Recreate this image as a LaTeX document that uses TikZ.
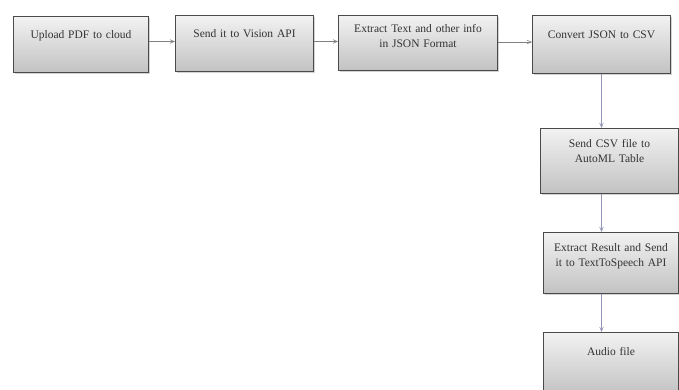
\documentclass[tikz,border=0pt]{standalone}
\usepackage{fontspec}
\setmainfont{Liberation Serif}
\usepackage{tikz}
\usetikzlibrary{arrows, shadows}

\definecolor{boxline}{HTML}{4A4A4A}
\definecolor{boxtop}{HTML}{F2F2F2}
\definecolor{boxbot}{HTML}{C2C2C2}
\definecolor{hline}{HTML}{808080}
\definecolor{vline}{HTML}{9494B8}

\begin{document}
\begin{tikzpicture}[x=1pt, y=-1pt, >=angle 45, semithick,
    proc/.style={draw=boxline, line width=1pt, top color=boxtop, bottom color=boxbot,
        drop shadow={shadow xshift=1pt, shadow yshift=-1.2pt, opacity=0.35},
        align=center, inner sep=0pt, anchor=north west, text=black!80,
        font=\fontsize{11.5}{14.5}\selectfont}]
    \useasboundingbox (0,0) rectangle (679,389);

    \node[proc, text width=135pt, text height=22pt, text depth=34pt] (upload) at (13,16) {Upload PDF to cloud};
    \node[proc, text width=138pt, text height=22pt, text depth=34pt] (vision) at (175,15) {Send it to Vision API};
    \node[proc, text width=159pt, text height=17pt, text depth=38pt] (extract) at (338,15) {Extract Text and other info\\in JSON Format};
    \node[proc, text width=138pt, text height=23pt, text depth=35pt] (convert) at (532,15) {Convert JSON to CSV};
    \node[proc, text width=138pt, text height=19pt, text depth=46pt] (automl) at (540,128) {Send CSV file to\\AutoML Table};
    \node[proc, text width=135pt, text height=19pt, text depth=42pt] (speech) at (543,232) {Extract Result and Send\\it to TextToSpeech API};
    \node[proc, text width=135pt, text height=23pt, text depth=39pt] (audio) at (543,332) {Audio file};

    \path[->, color=hline]
    ([yshift=3pt]upload.east) edge ([yshift=3pt]upload.east -| vision.west)
    ([yshift=2pt]vision.east) edge ([yshift=2pt]vision.east -| extract.west)
    ([yshift=1pt]extract.east) edge ([yshift=1pt]extract.east -| convert.west);
    \path[->, color=vline]
    (convert.south) edge (convert.south |- automl.north)
    (convert.south |- automl.south) edge (convert.south |- speech.north)
    (convert.south |- speech.south) edge (convert.south |- audio.north);
\end{tikzpicture}
\end{document}
